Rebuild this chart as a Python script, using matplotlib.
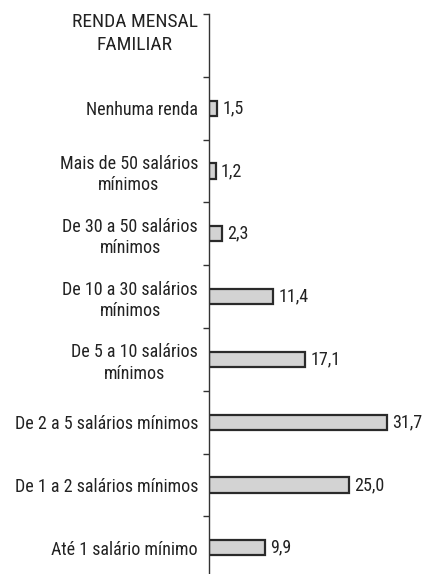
import matplotlib
matplotlib.use("Agg")
import matplotlib.pyplot as plt

categories = ["Até 1 salário mínimo", "De 1 a 2 salários mínimos", "De 2 a 5 salários mínimos",
              "De 5 a 10 salários\nmínimos", "De 10 a 30 salários\nmínimos", "De 30 a 50 salários\nmínimos",
              "Mais de 50 salários\nmínimos", "Nenhuma renda"]
values = [9.9, 25.0, 31.7, 17.1, 11.4, 2.3, 1.2, 1.5]
value_labels = ["9,9", "25,0", "31,7", "17,1", "11,4", "2,3", "1,2", "1,5"]
title = "RENDA MENSAL\nFAMILIAR"

plt.rcParams['font.family'] = ['Roboto Condensed', 'Liberation Sans', 'DejaVu Sans']
FS = 13
TC = "#222222"

W, H = 424, 574
fig = plt.figure(figsize=(W/100, H/100), dpi=100)
left = 209 / W
top_px = 14
slot = 62.8
nslots = 9
bottom_px = top_px + nslots * slot
ax = fig.add_axes([left, 1 - bottom_px / H, 1 - left, nslots * slot / H])

y = list(range(len(categories)))
ax.barh(y, values, height=0.24, color="#d3d3d3", edgecolor="#2a2a2a", linewidth=1.6)
for yi, v, lab in zip(y, values, value_labels):
    ax.text(v + 0.9, yi, lab, va="center", ha="left", fontsize=FS, color=TC)

ax.set_xlim(0, (W - 209) / 5.615)
ax.set_ylim(-0.5, nslots - 0.5)
ax.set_yticks(y)
ax.set_yticklabels(categories, fontsize=FS, color=TC, multialignment="center", linespacing=1.25)
ax.tick_params(axis="y", which="major", length=0, pad=8)
ax.set_yticks([i - 0.5 for i in range(nslots + 1)], minor=True)
ax.tick_params(axis="y", which="minor", length=4, width=1, color="#333333")
ax.set_xticks([])
for s in ["top", "right", "bottom"]:
    ax.spines[s].set_visible(False)
ax.spines["left"].set_color("#333333")
ax.spines["left"].set_linewidth(1)

ax.text(-11 / 5.615, nslots - 1 + 0.19, title, ha="right", va="center", fontsize=14,
        color=TC, multialignment="center", linespacing=1.4, transform=ax.transData)

fig.savefig("out.png", dpi=100)
